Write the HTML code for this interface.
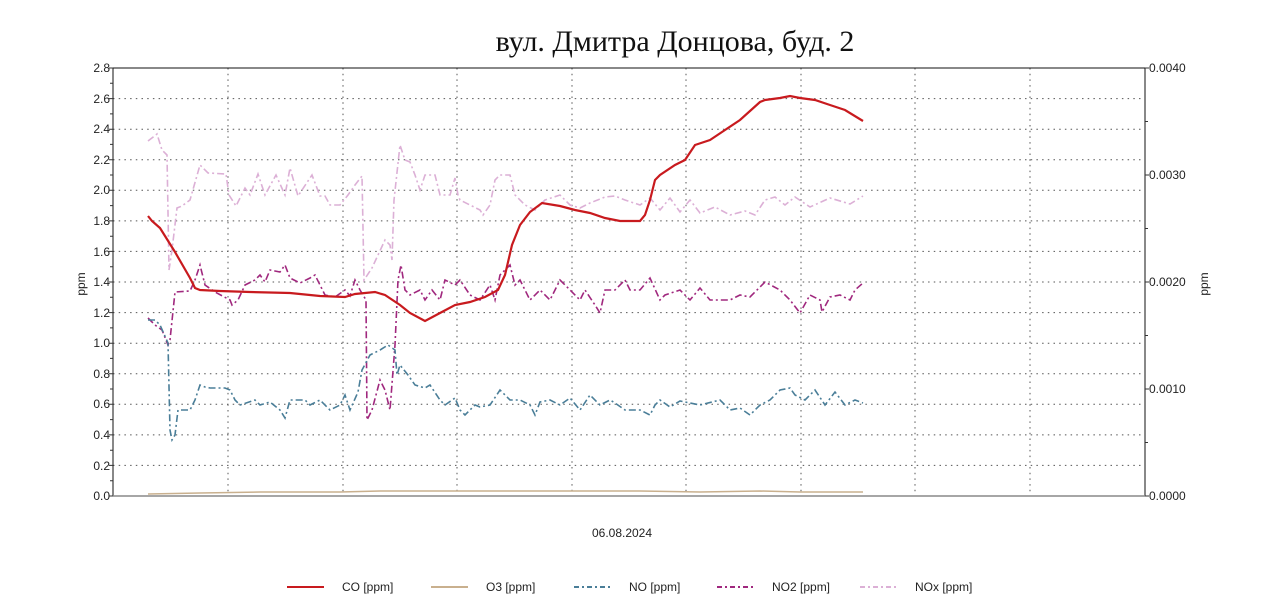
<!DOCTYPE html>
<html><head><meta charset="utf-8"><style>
body{margin:0;background:#fff;width:1280px;height:606px;overflow:hidden}
svg{display:block}
text{font-family:"Liberation Sans",sans-serif;font-size:12px;fill:#222}
</style></head><body>
<svg width="1280" height="606" viewBox="0 0 1280 606">
<text x="675" y="51" text-anchor="middle" style="font-family:'Liberation Serif','DejaVu Serif',serif;font-size:30px;fill:#111">вул. Дмитра Донцова, буд. 2</text>
<g stroke="#555" stroke-width="1" stroke-dasharray="1.5 4.2" fill="none">
<path d="M113 98.6H1145M113 129.2H1145M113 159.7H1145M113 190.3H1145M113 220.9H1145M113 251.4H1145M113 282H1145M113 312.6H1145M113 343.2H1145M113 373.7H1145M113 404.3H1145M113 434.9H1145M113 465.4H1145"/>
<path d="M228 68V496M343 68V496M457 68V496M572 68V496M686 68V496M801 68V496M915 68V496M1030 68V496"/>
</g>
<path d="M113 68H1145V496" stroke="#111" fill="none"/>
<path d="M113 68V496" stroke="#111" fill="none"/>
<path d="M113 496H1145" stroke="#888" stroke-width="1.5" fill="none"/>
<g stroke="#333">
<path d="M109 68h4M109 98.6h4M109 129.2h4M109 159.7h4M109 190.3h4M109 220.9h4M109 251.4h4M109 282h4M109 312.6h4M109 343.2h4M109 373.7h4M109 404.3h4M109 434.9h4M109 465.4h4M109 496h4"/>
<path d="M110 83.3h3M110 113.9h3M110 144.4h3M110 175h3M110 205.6h3M110 236.2h3M110 266.7h3M110 297.3h3M110 327.9h3M110 358.4h3M110 389h3M110 419.6h3M110 450.2h3M110 480.7h3"/>
<path d="M1145 68h4M1145 175h4M1145 282h4M1145 389h4M1145 496h4M1145 121.5h3M1145 228.5h3M1145 335.5h3M1145 442.5h3"/>
</g>
<g text-anchor="end">
<text x="110" y="72">2.8</text><text x="110" y="103">2.6</text><text x="110" y="133">2.4</text><text x="110" y="164">2.2</text><text x="110" y="194">2.0</text><text x="110" y="225">1.8</text><text x="110" y="256">1.6</text><text x="110" y="286">1.4</text><text x="110" y="317">1.2</text><text x="110" y="347">1.0</text><text x="110" y="378">0.8</text><text x="110" y="408">0.6</text><text x="110" y="439">0.4</text><text x="110" y="470">0.2</text><text x="110" y="500">0.0</text>
</g>
<text x="1149" y="72">0.0040</text><text x="1149" y="179">0.0030</text><text x="1149" y="286">0.0020</text><text x="1149" y="393">0.0010</text><text x="1149" y="500">0.0000</text>
<text transform="translate(85,284) rotate(-90)" text-anchor="middle">ppm</text>
<text transform="translate(1208,284) rotate(-90)" text-anchor="middle">ppm</text>
<text x="622" y="537" text-anchor="middle">06.08.2024</text>

<polyline fill="none" stroke="#c9b08e" stroke-width="1.5" points="148,494 200,493 260,492 340,492 380,491 500,491 640,491 700,492 760,491 800,492 863,492"/>

<polyline fill="none" stroke="#dcb0d6" stroke-width="1.6" stroke-dasharray="7 3 2 3" points="148,141 157,134 162,150 167,155 169,270 172,250 177,208 182,206 190,200 200,165 208,173 226,174 229,195 236,206 245,188 250,195 258,174 265,195 276,175 285,195 290,168 298,196 312,175 320,196 325,196 330,205 340,205 348,195 355,185 362,176 364,280 372,268 378,255 385,240 390,245 392,260 394,200 400,145 405,160 410,162 415,175 420,190 425,175 435,175 440,195 450,195 455,178 458,195 460,200 470,205 480,210 483,215 490,205 495,180 500,175 510,175 515,195 525,205 535,210 545,200 560,195 570,205 580,208 590,203 605,197 615,196 625,200 640,205 650,198 660,210 670,198 680,212 690,200 700,213 715,207 730,215 745,211 755,215 765,200 775,197 785,205 795,197 810,207 830,198 850,204 863,196"/>

<polyline fill="none" stroke="#a0287e" stroke-width="1.6" stroke-dasharray="7 3 2 3" points="148,318 155,325 162,330 168,345 170,340 175,292 190,291 195,280 200,265 205,285 215,292 230,300 232,305 238,300 245,285 255,280 260,275 265,282 270,270 280,272 285,265 290,278 300,283 310,278 315,275 325,295 335,297 345,290 350,296 355,280 360,290 366,300 367,420 372,410 380,380 385,390 390,410 395,345 398,280 401,265 405,290 410,295 420,290 425,300 432,290 440,300 445,280 455,285 460,280 470,295 480,300 490,285 495,300 500,275 510,265 515,285 520,280 525,290 530,300 540,290 550,300 560,280 570,290 580,300 585,290 595,305 600,313 605,290 615,290 625,280 630,290 640,290 650,278 660,300 665,295 680,290 690,300 700,288 710,300 730,300 740,295 750,297 765,282 780,290 790,300 800,313 810,295 820,300 822,312 830,297 840,295 850,300 855,290 863,283"/>

<polyline fill="none" stroke="#4a7e98" stroke-width="1.6" stroke-dasharray="7 3 2 3" points="148,320 155,320 160,325 168,343 170,430 172,440 175,435 178,410 190,410 195,400 200,385 205,387 210,388 225,388 230,390 235,400 240,405 255,400 260,405 270,402 280,410 285,418 290,400 305,400 310,405 320,400 330,410 340,405 345,395 350,410 358,392 362,370 370,355 380,350 388,345 395,350 397,375 400,365 408,375 415,385 425,388 430,385 440,400 445,405 455,398 460,410 465,415 475,405 480,407 490,405 500,390 510,400 520,400 530,405 535,415 540,402 550,400 560,405 570,398 580,410 590,395 600,405 610,400 615,403 625,410 640,410 650,415 655,405 660,400 670,407 680,401 700,405 720,400 730,410 740,408 750,415 760,405 770,400 780,390 790,388 795,395 805,400 815,390 825,405 835,392 845,405 855,400 863,403"/>

<polyline fill="none" stroke="#c81a1e" stroke-width="2.2" points="148,216 152,221 160,228 175,252 190,278 195,288 200,290 220,291 250,292 290,293 320,296 345,297 355,294 375,292 385,295 400,305 410,313 425,321 440,313 455,305 470,302 485,297 498,290 505,275 512,245 520,225 530,212 542,203 560,206 575,210 590,213 605,218 620,221 640,221 645,215 650,200 655,180 660,175 675,165 685,160 695,145 710,140 725,130 740,120 760,102 765,100 780,98 790,96 800,98 815,100 830,105 845,110 863,121"/>

<g stroke-width="2" fill="none">
<path d="M287 587h37" stroke="#c81a1e"/>
<path d="M431 587h37" stroke="#c9b08e"/>
<path d="M574 587h37" stroke="#4a7e98" stroke-dasharray="5 3 2 3"/>
<path d="M717 587h37" stroke="#a0287e" stroke-dasharray="5 3 2 3"/>
<path d="M860 587h37" stroke="#dcb0d6" stroke-dasharray="5 3 2 3"/>
</g>
<text x="342" y="591">CO [ppm]</text>
<text x="486" y="591">O3 [ppm]</text>
<text x="629" y="591">NO [ppm]</text>
<text x="772" y="591">NO2 [ppm]</text>
<text x="915" y="591">NOx [ppm]</text>
</svg>
</body></html>
